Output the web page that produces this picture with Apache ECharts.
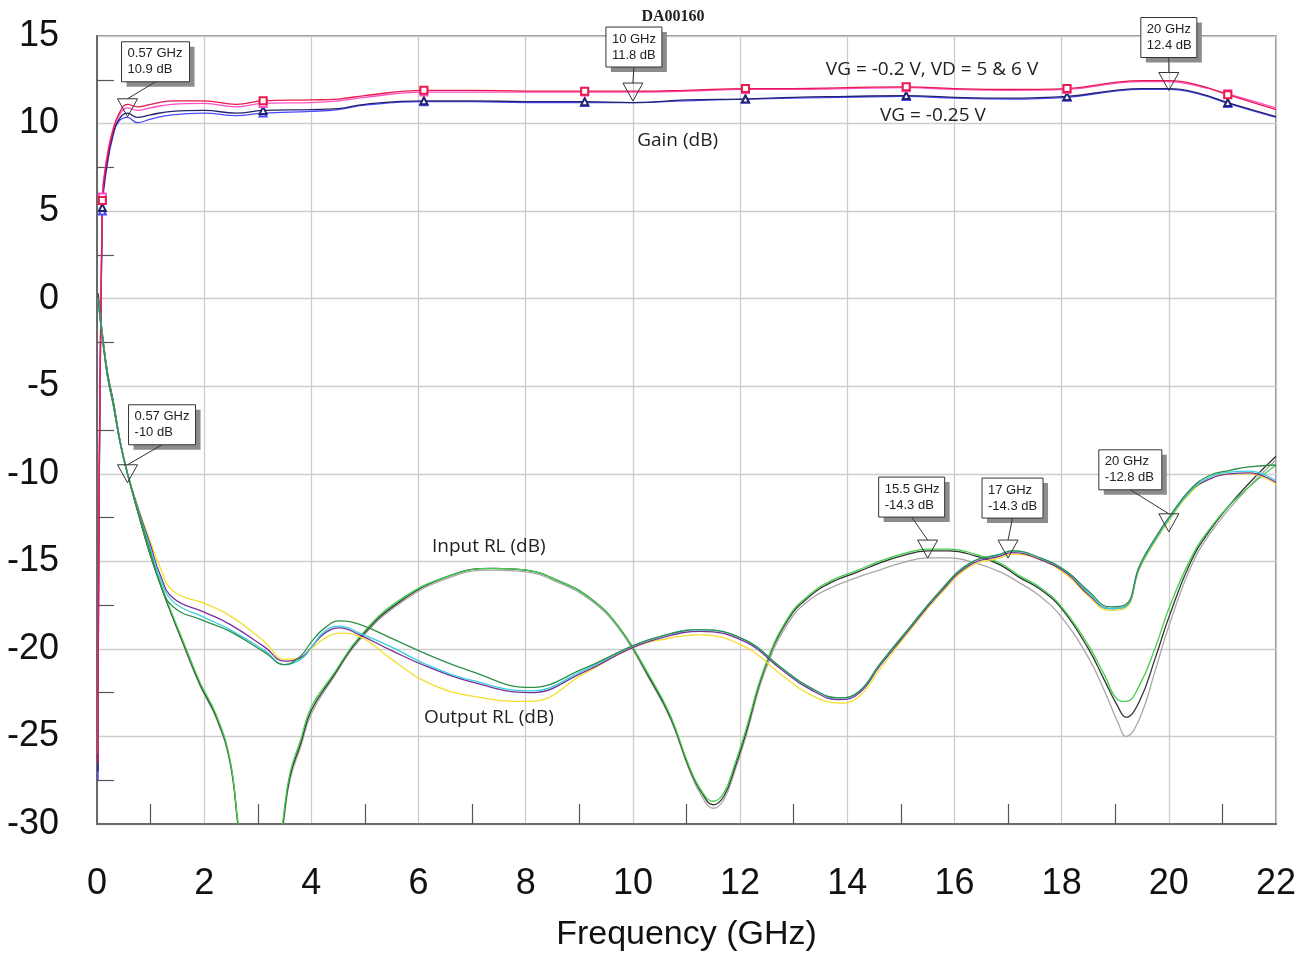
<!DOCTYPE html>
<html><head><meta charset="utf-8">
<script src="https://cdn.jsdelivr.net/npm/echarts@6/dist/echarts.min.js"></script>
<style>html,body{margin:0;padding:0;background:#fff}#c{width:1307px;height:955px}</style>
</head><body><div id="c"></div>
<script>
// ---------- DATA ----------
const gainX = [0.02, 0.1, 0.2, 0.3, 0.4, 0.57, 0.75, 1.0, 1.4, 2.0, 2.6, 3.1, 4.0, 4.5, 5.0, 6.1, 7.0, 8.0, 9.1, 10.0, 11.0, 12.1, 13.0, 14.0, 15.1, 16.0, 17.0, 18.1, 19.0, 19.5, 20.0, 20.6, 21.1, 22.0];
const gainRed = [-26.5, 5.6, 8.2, 9.6, 10.5, 11.1, 10.95, 11.1, 11.3, 11.3, 11.1, 11.3, 11.35, 11.4, 11.6, 11.9, 11.9, 11.85, 11.85, 11.85, 11.9, 12.0, 12.0, 12.05, 12.1, 12.0, 11.95, 12.0, 12.35, 12.45, 12.45, 12.15, 11.65, 10.8];
const gainPink = [-26.0, 5.8, 8.4, 9.7, 10.4, 10.9, 10.75, 10.9, 11.1, 11.15, 10.95, 11.15, 11.2, 11.3, 11.5, 11.8, 11.8, 11.8, 11.8, 11.8, 11.85, 11.95, 11.95, 12.0, 12.05, 11.95, 11.9, 11.95, 12.3, 12.4, 12.4, 12.1, 11.7, 10.9];
const gainNavy = [-27.0, 5.2, 8.0, 9.4, 10.2, 10.6, 10.35, 10.5, 10.7, 10.75, 10.6, 10.75, 10.8, 10.85, 11.1, 11.3, 11.3, 11.25, 11.25, 11.2, 11.35, 11.4, 11.5, 11.55, 11.6, 11.5, 11.45, 11.55, 11.9, 12.0, 12.0, 11.7, 11.2, 10.4];
const gainBlue = [-27.5, 5.0, 7.8, 9.3, 10.1, 10.35, 10.05, 10.25, 10.5, 10.6, 10.45, 10.6, 10.7, 10.8, 11.05, 11.25, 11.25, 11.2, 11.2, 11.2, 11.3, 11.4, 11.45, 11.5, 11.55, 11.45, 11.4, 11.5, 11.85, 11.95, 11.95, 11.65, 11.15, 10.35];
const gainMarkX = [0.1, 3.1, 6.1, 9.1, 12.1, 15.1, 18.1, 21.1];

const inX = [0.02, 0.1, 0.2, 0.3, 0.43, 0.57, 0.8, 1.0, 1.3, 1.6, 1.92, 2.23, 2.48, 2.63, 2.8, 3.05, 3.3, 3.47, 3.6, 3.8, 4.0, 4.4, 4.9, 5.65, 6.6, 7.4, 8.0, 8.6, 9.2, 9.75, 10.3, 10.7, 11.05, 11.3, 11.5, 11.7, 11.9, 12.1, 12.45, 12.9, 13.3, 13.7, 14.2, 14.6, 15.0, 15.5, 15.9, 16.4, 16.85, 17.2, 17.6, 18.0, 18.5, 18.8, 19.05, 19.2, 19.45, 19.75, 20.0, 20.4, 20.75, 21.3, 22.0];
const inBlack = [0.3, -2.0, -4.3, -5.8, -8.1, -10.0, -12.6, -14.7, -17.3, -19.6, -22.0, -23.9, -26.4, -30.0, -34.0, -40.0, -34.0, -30.0, -27.3, -25.4, -23.5, -21.6, -19.4, -17.3, -15.8, -15.4, -15.5, -16.1, -17.1, -18.8, -21.6, -23.9, -26.8, -28.3, -28.9, -28.4, -26.8, -24.9, -21.2, -18.3, -17.0, -16.2, -15.6, -15.1, -14.7, -14.4, -14.4, -14.7, -15.2, -15.9, -16.6, -17.7, -20.0, -21.8, -23.3, -23.9, -23.0, -20.5, -18.2, -15.1, -13.3, -11.2, -9.0];
const inGreen = [0.0, -2.1, -4.4, -5.9, -8.2, -10.0, -12.5, -14.6, -17.2, -19.5, -21.9, -23.8, -26.3, -29.9, -34.0, -40.0, -34.0, -29.8, -27.1, -25.2, -23.3, -21.5, -19.3, -17.2, -15.8, -15.4, -15.5, -16.1, -17.1, -18.8, -21.5, -23.8, -26.7, -28.2, -28.7, -28.2, -26.6, -24.7, -21.1, -18.2, -16.9, -16.1, -15.5, -15.0, -14.6, -14.3, -14.3, -14.6, -15.1, -15.8, -16.5, -17.6, -19.8, -21.5, -22.9, -23.0, -22.1, -19.9, -17.7, -14.9, -13.2, -11.3, -9.5];
const inGray = [0.3, -2.0, -4.3, -5.8, -8.1, -10.0, -12.6, -14.7, -17.3, -19.7, -22.1, -24.0, -26.5, -30.1, -34.0, -40.0, -34.0, -30.2, -27.5, -25.6, -23.7, -21.7, -19.5, -17.4, -15.9, -15.5, -15.6, -16.2, -17.2, -18.9, -21.7, -24.0, -26.9, -28.5, -29.1, -28.6, -27.0, -25.1, -21.4, -18.5, -17.2, -16.5, -15.9, -15.5, -15.1, -14.8, -14.8, -15.1, -15.6, -16.2, -17.0, -18.2, -20.5, -22.4, -24.2, -25.0, -24.0, -21.2, -18.7, -15.4, -13.5, -11.4, -9.2];

const outX = [0.02, 0.1, 0.2, 0.3, 0.43, 0.57, 0.8, 1.0, 1.17, 1.42, 2.0, 2.48, 3.13, 3.5, 3.8, 4.0, 4.25, 4.53, 4.9, 5.5, 6.15, 7.0, 8.07, 9.1, 9.94, 10.5, 11.25, 12.1, 12.74, 13.3, 13.86, 14.23, 14.6, 15.13, 15.73, 16.29, 16.85, 17.07, 17.6, 18.1, 18.5, 18.9, 19.18, 19.46, 19.8, 20.0, 20.4, 20.76, 21.14, 21.5, 22.0];
const outCyan = [0.0, -2.2, -4.5, -6.0, -8.2, -10.0, -12.4, -14.3, -15.9, -17.3, -18.2, -18.9, -20.1, -20.9, -20.6, -19.9, -19.0, -18.7, -19.1, -19.9, -20.9, -21.8, -22.4, -21.2, -19.9, -19.3, -18.9, -19.5, -21.0, -22.2, -22.8, -22.4, -20.9, -18.9, -16.7, -15.1, -14.6, -14.4, -14.8, -15.6, -16.8, -17.7, -17.6, -15.3, -13.5, -12.6, -11.0, -10.2, -9.9, -9.85, -10.4];
const outYellow = [0.0, -2.2, -4.5, -6.0, -8.2, -10.0, -12.2, -13.9, -15.3, -16.7, -17.4, -18.1, -19.6, -20.6, -20.5, -20.0, -19.4, -19.1, -19.3, -20.6, -21.9, -22.7, -23.0, -21.4, -20.0, -19.5, -19.2, -19.9, -21.4, -22.6, -23.1, -22.7, -21.2, -19.1, -16.9, -15.3, -14.8, -14.6, -14.9, -15.8, -17.0, -17.8, -17.7, -15.4, -13.6, -12.7, -11.1, -10.3, -10.0, -10.0, -10.6];
const outPurple = [0.0, -2.2, -4.5, -6.0, -8.2, -10.0, -12.3, -14.1, -15.7, -17.1, -17.9, -18.6, -19.9, -20.7, -20.5, -19.9, -19.1, -18.8, -19.2, -20.1, -21.0, -21.9, -22.5, -21.3, -20.0, -19.4, -19.0, -19.6, -21.1, -22.3, -22.9, -22.5, -21.0, -19.0, -16.8, -15.2, -14.7, -14.5, -14.9, -15.7, -16.9, -17.7, -17.6, -15.3, -13.5, -12.6, -11.0, -10.3, -10.0, -9.95, -10.5];
const outGreen = [0.0, -2.2, -4.5, -6.0, -8.2, -10.0, -12.5, -14.5, -16.2, -17.6, -18.4, -19.0, -20.2, -20.9, -20.4, -19.6, -18.8, -18.4, -18.6, -19.4, -20.3, -21.3, -22.2, -21.1, -19.9, -19.3, -18.9, -19.5, -21.0, -22.2, -22.8, -22.4, -20.9, -18.9, -16.7, -15.1, -14.6, -14.4, -14.8, -15.6, -16.7, -17.6, -17.5, -15.2, -13.4, -12.5, -10.9, -10.1, -9.8, -9.6, -9.5];

// marker annotations (frequency, value)
const mkFreq = [0.57, 10, 20, 0.57, 15.5, 17, 20];
const mkVal = [10.9, 11.8, 12.4, -10, -14.3, -14.3, -12.8];
// text notes (anchored in data coordinates)
const noteText = ['VG = -0.2 V, VD = 5 & 6 V', 'VG = -0.25 V', 'Gain (dB)', 'Input RL (dB)', 'Output RL (dB)'];
const noteX = [13.6, 14.61, 10.08, 6.25, 6.1];
const noteY = [13.06, 10.48, 9.05, -14.16, -23.94];
const chartTitle = 'DA00160';

// ---------- LAYOUT / STYLE ----------
const NARROW = "'Liberation Sans Narrow','Arial Narrow','Liberation Sans',Arial,sans-serif";
const CAL = "'Open Sans','Noto Sans',sans-serif";
const mkBox = [[-6,-66,68],[-27,-65,56],[-28,-64,56],[1,-69,67],[-49,-72,66],[-26,-71,61],[-70,-73,63]];

function pts(xs, ys, sym) {
  return xs.map((x, i) => {
    const d = { value: [x, ys[i]] };
    if (sym && gainMarkX.indexOf(x) >= 0) { d.symbol = sym; d.symbolSize = 7; }
    return d;
  });
}
function line(name, xs, ys, color, w, sym, z) {
  return {
    name, type: 'line', data: pts(xs, ys, sym), symbol: 'none', showSymbol: true,
    smooth: 0.45, clip: true, silent: true, animation: false, z: z || 3,
    lineStyle: { color, width: w }, itemStyle: { color, borderColor: color, borderWidth: 1 }
  };
}

const chart = echarts.init(document.getElementById('c'), null, { renderer: 'canvas' });
const axisCommon = {
  type: 'value',
  axisLine: { show: true, onZero: false, lineStyle: { color: '#6a6a6a', width: 2 } },
  axisTick: { show: false, inside: true },
  splitLine: { show: true, lineStyle: { color: '#cdcdcd', width: 1.3 } },
};
chart.setOption({
  animation: false,
  backgroundColor: '#fff',
  grid: { left: 97, right: 31, top: 36, bottom: 131, show: true, containLabel: false, outerBoundsMode: 'none', borderColor: '#6a6a6a', borderWidth: 1.5, backgroundColor: 'transparent' },
  xAxis: Object.assign({}, axisCommon, {
    min: 0, max: 22, interval: 2,
    minorTick: { show: true, splitNumber: 2, length: 20, lineStyle: { color: '#555', width: 1.2 } },
    axisLabel: { fontSize: 36, fontFamily: NARROW, color: '#111', margin: 42 },
    name: 'Frequency (GHz)', nameLocation: 'middle', nameGap: 94,
    nameTextStyle: { fontSize: 34, fontFamily: NARROW, color: '#111' }
  }),
  yAxis: Object.assign({}, axisCommon, {
    min: -30, max: 15, interval: 5,
    minorTick: { show: true, splitNumber: 2, length: 17, lineStyle: { color: '#555', width: 1.2 } },
    axisLabel: { fontSize: 36, fontFamily: NARROW, color: '#111', margin: 38 }
  }),
  series: [
    line('Gain VG=-0.25 blue', gainX, gainBlue, '#4a4aff', 1.3, 'emptyTriangle'),
    line('Gain VG=-0.25 navy', gainX, gainNavy, '#23236e', 1.3, 'emptyTriangle'),
    line('Gain VG=-0.2 pink', gainX, gainPink, '#ff4fc8', 1.3, 'emptyRect'),
    line('Gain VG=-0.2 red', gainX, gainRed, '#e8194c', 1.3, 'emptyRect'),
    line('Input RL gray', inX, inGray, '#a8a8a8', 1.3),
    line('Input RL black', inX, inBlack, '#333333', 1.3),
    line('Input RL green', inX, inGreen, '#3fd04a', 1.3),
    line('Output RL yellow', outX, outYellow, '#f2e030', 1.3),
    line('Output RL purple', outX, outPurple, '#7a2f9a', 1.3),
    line('Output RL cyan', outX, outCyan, '#38d0e0', 1.3),
    line('Output RL green', outX, outGreen, '#2f8f4a', 1.3)
  ]
});

// ---------- annotations ----------
const g = [];
g.push({ type: 'text', x: 673, y: 17, silent: true, style: { text: chartTitle, font: "bold 16px 'Liberation Serif', serif", fill: '#222', textAlign: 'center', textVerticalAlign: 'middle' } });
noteText.forEach((t, i) => {
  const p = chart.convertToPixel({ xAxisIndex: 0, yAxisIndex: 0 }, [noteX[i], noteY[i]]);
  g.push({ type: 'text', x: p[0], y: p[1], silent: true, z: 50, style: { text: t, font: "19px " + CAL, fill: '#222', textAlign: 'left', textVerticalAlign: 'middle' } });
});
mkFreq.forEach((f, i) => {
  const p = chart.convertToPixel({ xAxisIndex: 0, yAxisIndex: 0 }, [f, mkVal[i]]);
  const px = p[0], py = p[1];
  const bx = px + mkBox[i][0], by = py + mkBox[i][1], w = mkBox[i][2], h = 40;
  g.push({ type: 'rect', silent: true, z: 60, shape: { x: bx + 5, y: by + 5, width: w, height: h }, style: { fill: '#8c8c8c' } });
  g.push({ type: 'rect', silent: true, z: 61, shape: { x: bx, y: by, width: w, height: h }, style: { fill: '#fff', stroke: '#333', lineWidth: 1 } });
  g.push({ type: 'text', silent: true, z: 62, x: bx + 6, y: by + 4, style: { text: f + ' GHz\n' + mkVal[i] + ' dB', font: "13px " + NARROW, lineHeight: 16, fill: '#222', textAlign: 'left', textVerticalAlign: 'top' } });
  g.push({ type: 'line', silent: true, z: 60, shape: { x1: bx + w / 2, y1: by + h, x2: px, y2: py - 9 }, style: { stroke: '#333', lineWidth: 1 } });
  g.push({ type: 'polygon', silent: true, z: 60, shape: { points: [[px - 10, py - 9], [px + 10, py - 9], [px, py + 9]] }, style: { fill: 'rgba(0,0,0,0)', stroke: '#333', lineWidth: 1 } });
});
chart.setOption({ graphic: g });
</script>
</body></html>
